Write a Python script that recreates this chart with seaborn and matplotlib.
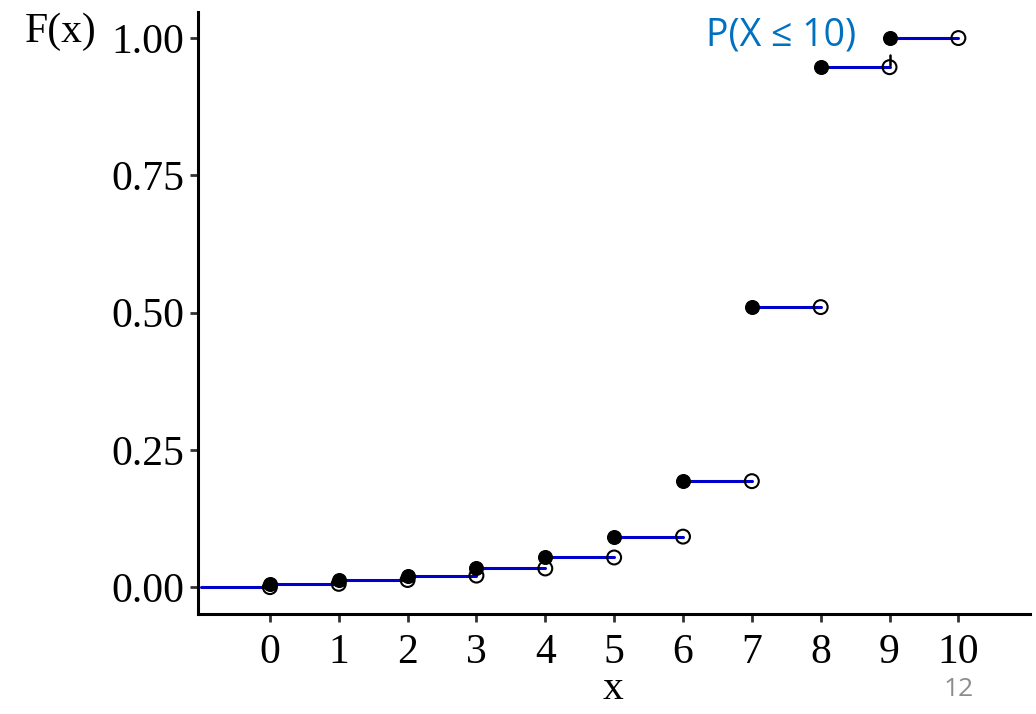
import matplotlib
matplotlib.use("Agg")
import matplotlib.pyplot as plt
import numpy as np
import pandas as pd
import seaborn as sns

# values
x_vals = [0, 1, 2, 3, 4, 5, 6, 7, 8, 9]
cdf_vals = [0.006, 0.013, 0.021, 0.034, 0.054, 0.092, 0.193, 0.510, 0.947, 1.000]
x_ticks = [0, 1, 2, 3, 4, 5, 6, 7, 8, 9, 10]
y_ticks = [0.00, 0.25, 0.50, 0.75, 1.00]
annotation = "P(X \u2264 10)"

sns.set_style("white")
plt.rcParams["font.family"] = ["Liberation Serif", "DejaVu Serif"]

# horizontal steps: one segment per value, plus the lead-in before 0
seg_rows = [{"seg": -1, "x": -1, "y": 0.0}, {"seg": -1, "x": 0, "y": 0.0}]
for k, f in zip(x_vals, cdf_vals):
    seg_rows.append({"seg": k, "x": k, "y": f})
    seg_rows.append({"seg": k, "x": k + 1, "y": f})
segs = pd.DataFrame(seg_rows)

closed = pd.DataFrame({"x": x_vals, "y": cdf_vals})
open_pts = pd.DataFrame({"x": [k + 1 for k in x_vals] + [0], "y": cdf_vals + [0.0]})

fig = plt.figure(figsize=(10.36, 7.14), dpi=100)
ax = fig.add_axes([0.1914, 0.140, 0.8028, 0.8436])

sns.lineplot(data=segs, x="x", y="y", units="seg", estimator=None,
             color="#0000cc", linewidth=2.2, ax=ax, zorder=2)
sns.scatterplot(data=open_pts, x="x", y="y", marker="o", s=100,
                facecolor="none", edgecolor="black", linewidth=1.5, ax=ax, zorder=3)
sns.scatterplot(data=closed, x="x", y="y", marker="o", s=100,
                color="black", edgecolor="black", ax=ax, zorder=4)

# small pointer under the last jump
ax.plot([9, 9], [0.951, 0.97], color="black", linewidth=1.8, zorder=5)

ax.set_xlim(-1.04, 11.04)
ax.set_ylim(-0.049, 1.048)
ax.set_xticks(x_ticks)
ax.set_yticks(y_ticks)
ax.set_yticklabels([f"{v:.2f}" for v in y_ticks])
ax.tick_params(axis="both", labelsize=30, length=6, width=2, color="#333333",
               labelcolor="black", direction="out", pad=4, left=True, bottom=True)
ax.tick_params(axis="x", pad=8)
for side in ["top", "right"]:
    ax.spines[side].set_visible(False)
for side in ["left", "bottom"]:
    ax.spines[side].set_linewidth(2.2)
    ax.spines[side].set_color("black")
ax.set_xlabel("")
ax.set_ylabel("")

fig.text(0.024, 0.955, "F(x)", fontsize=30, color="black", ha="left", va="center")
fig.text(0.592, 0.035, "x", fontsize=30, color="black", ha="center", va="center")
fig.text(0.681, 0.950, annotation, fontsize=27, color="#0070c0",
         family=["Open Sans", "DejaVu Sans"], ha="left", va="center")
fig.text(0.925, 0.035, "12", fontsize=19, color="#8c8c8c",
         family=["Open Sans", "DejaVu Sans"], ha="center", va="center")

fig.savefig("out.png", dpi=100)
